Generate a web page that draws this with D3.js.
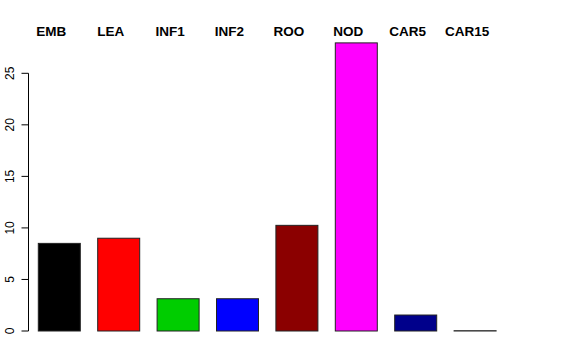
<!DOCTYPE html>
<html>
<head>
<meta charset="utf-8">
<script src="https://cdn.jsdelivr.net/npm/d3@7"></script>
<style>
  body { margin: 0; background: #fff; }
  svg { display: block; font-family: "Liberation Sans", Arial, sans-serif; }
</style>
</head>
<body>
<svg width="576" height="360"></svg>
<script>
const categories = ["EMB", "LEA", "INF1", "INF2", "ROO", "NOD", "CAR5", "CAR15"];
const values = [8.5, 9.0, 3.13, 3.13, 10.25, 27.95, 1.55, 0.03];
const colors = ["#000000", "#ff0000", "#00cd00", "#0000ff", "#8b0000", "#ff00ff", "#00008b", "#ffffff"];
const yTicks = [0, 5, 10, 15, 20, 25];

const svg = d3.select("svg");

// bar layout: step ~59.4px, bar ~42px
const x = d3.scaleBand()
    .domain(categories)
    .range([38.3, 496.1])
    .paddingInner(0.293)
    .paddingOuter(0);

const y = d3.scaleLinear()
    .domain([0, 25])
    .range([331, 73.3]);

// y axis, R style: line spans ticks only, labels rotated
const axis = svg.append("g").attr("transform", "translate(28.5,0)");
axis.append("line")
    .attr("x1", 0).attr("x2", 0)
    .attr("y1", y(0)).attr("y2", y(25))
    .attr("stroke", "#000");
axis.selectAll("line.tick")
    .data(yTicks)
    .join("line")
    .attr("class", "tick")
    .attr("x1", -7).attr("x2", 0)
    .attr("y1", d => y(d)).attr("y2", d => y(d))
    .attr("stroke", "#000");
axis.selectAll("text")
    .data(yTicks)
    .join("text")
    .attr("transform", d => `translate(-15,${y(d)}) rotate(-90)`)
    .attr("text-anchor", "middle")
    .attr("font-size", 12)
    .text(d => d);

svg.selectAll("rect.bar")
    .data(categories)
    .join("rect")
    .attr("class", "bar")
    .attr("x", d => x(d))
    .attr("width", x.bandwidth())
    .attr("y", (d, i) => y(values[i]))
    .attr("height", (d, i) => y(0) - y(values[i]))
    .attr("fill", (d, i) => colors[i])
    .attr("stroke", "#222")
    .attr("stroke-width", 1);

svg.selectAll("text.lab")
    .data(categories)
    .join("text")
    .attr("class", "lab")
    .attr("x", d => x(d) + x.bandwidth() / 2 - 8)
    .attr("y", 35.5)
    .attr("text-anchor", "middle")
    .attr("font-size", 13.5)
    .attr("font-weight", "bold")
    .text(d => d);
</script>
</body>
</html>
